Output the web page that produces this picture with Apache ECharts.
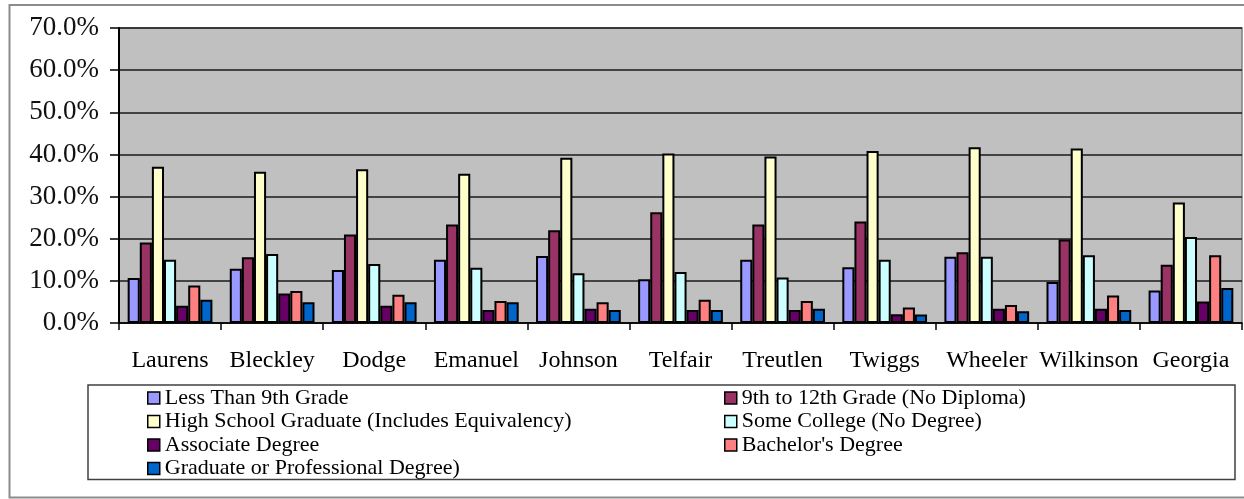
<!DOCTYPE html>
<html>
<head>
<meta charset="utf-8">
<script src="https://cdn.jsdelivr.net/npm/echarts@6/dist/echarts.min.js"></script>
<style>
  html, body { margin: 0; padding: 0; background: #ffffff; }
  #chart { width: 1244px; height: 499px; }
</style>
</head>
<body>
<div id="chart"></div>
<script>
// Educational attainment by county (share of population 25+), percent
const counties = ['Laurens', 'Bleckley', 'Dodge', 'Emanuel', 'Johnson', 'Telfair',
                  'Treutlen', 'Twiggs', 'Wheeler', 'Wilkinson', 'Georgia'];

const seriesNames = [
  'Less Than 9th Grade',
  '9th to 12th Grade (No Diploma)',
  'High School Graduate (Includes Equivalency)',
  'Some College (No Degree)',
  'Associate Degree',
  "Bachelor's Degree",
  'Graduate or Professional Degree)'
];

const lessThan9th   = [10.7, 12.9, 12.6, 15.0, 15.9, 10.4, 15.0, 13.2, 15.7,  9.7,  7.7];
const grade9to12    = [19.1, 15.6, 21.0, 23.4, 22.0, 26.3, 23.4, 24.1, 16.8, 19.8, 13.8];
const highSchool    = [37.1, 35.9, 36.5, 35.4, 39.2, 40.2, 39.5, 40.8, 41.7, 41.4, 28.6];
const someCollege   = [15.0, 16.4, 14.0, 13.1, 11.8, 12.1, 10.8, 15.0, 15.7, 16.1, 20.4];
const associate     = [ 4.1,  7.0,  4.1,  3.1,  3.4,  3.1,  3.1,  2.1,  3.4,  3.4,  5.1];
const bachelors     = [ 8.9,  7.6,  6.7,  5.2,  4.9,  5.5,  5.2,  3.7,  4.3,  6.5, 16.1];
const graduate      = [ 5.5,  4.9,  4.9,  4.9,  3.1,  3.1,  3.4,  2.0,  2.8,  3.1,  8.3];

const yTicks = { min: 0, max: 70, interval: 10 };

const palette = ['#9999FF', '#993366', '#FFFFCC', '#CCFFFF', '#660066', '#FF8080', '#0066CC'];
const seriesData = [lessThan9th, grade9to12, highSchool, someCollege, associate, bachelors, graduate];

const serif = '"Liberation Serif", "Times New Roman", serif';

const chart = echarts.init(document.getElementById('chart'), null, { renderer: 'canvas' });

const legendCommon = {
  orient: 'vertical',
  padding: 0,
  itemWidth: 12,
  itemHeight: 12,
  itemGap: 1.5,
  itemTextGap: 5,
  icon: 'rect',
  itemStyle: { borderColor: '#000', borderWidth: 1.5 },
  textStyle: { fontFamily: serif, fontSize: 22, lineHeight: 20, color: '#000' }
};

chart.setOption({
  backgroundColor: '#ffffff',
  animation: false,
  color: palette,
  grid: {
    left: 119, right: 2, top: 28, bottom: 176,
    show: true,
    backgroundColor: '#C0C0C0',
    borderColor: '#808080',
    borderWidth: 1.5
  },
  graphic: [
    { // outer chart frame
      type: 'rect', silent: true, z: 0,
      shape: { x: 9.5, y: 5, width: 1250, height: 492.5 },
      style: { fill: 'none', stroke: '#8c8c8c', lineWidth: 2 }
    },
    { // legend frame
      type: 'rect', silent: true, z: 0,
      shape: { x: 88, y: 385, width: 1147, height: 94.5 },
      style: { fill: 'none', stroke: '#404040', lineWidth: 1.5 }
    }
  ],
  legend: [
    Object.assign({}, legendCommon, {
      left: 147, top: 387,
      data: [seriesNames[0], seriesNames[2], seriesNames[4], seriesNames[6]]
    }),
    Object.assign({}, legendCommon, {
      left: 724, top: 387,
      data: [seriesNames[1], seriesNames[3], seriesNames[5]]
    })
  ],
  xAxis: {
    type: 'category',
    data: counties,
    axisLine: { lineStyle: { color: '#000', width: 1.5 } },
    axisTick: { show: true, length: 7, lineStyle: { color: '#000', width: 1.5 } },
    axisLabel: {
      fontFamily: serif, fontSize: 24, color: '#000', margin: 26, interval: 0
    }
  },
  yAxis: {
    type: 'value',
    min: yTicks.min, max: yTicks.max, interval: yTicks.interval,
    axisLine: { show: true, lineStyle: { color: '#000', width: 2 } },
    axisTick: { show: true, length: 9, lineStyle: { color: '#000', width: 1.5 } },
    splitLine: { show: true, lineStyle: { color: '#1a1a1a', width: 1.5 } },
    axisLabel: {
      fontFamily: serif, fontSize: 27, color: '#111', margin: 20,
      formatter: v => v.toFixed(1) + '%'
    }
  },
  series: seriesNames.map((name, i) => ({
    name,
    type: 'bar',
    data: seriesData[i],
    barGap: '0%',
    barCategoryGap: '17%',
    itemStyle: { color: palette[i], borderColor: '#000', borderWidth: 2 }
  }))
});
</script>
</body>
</html>
